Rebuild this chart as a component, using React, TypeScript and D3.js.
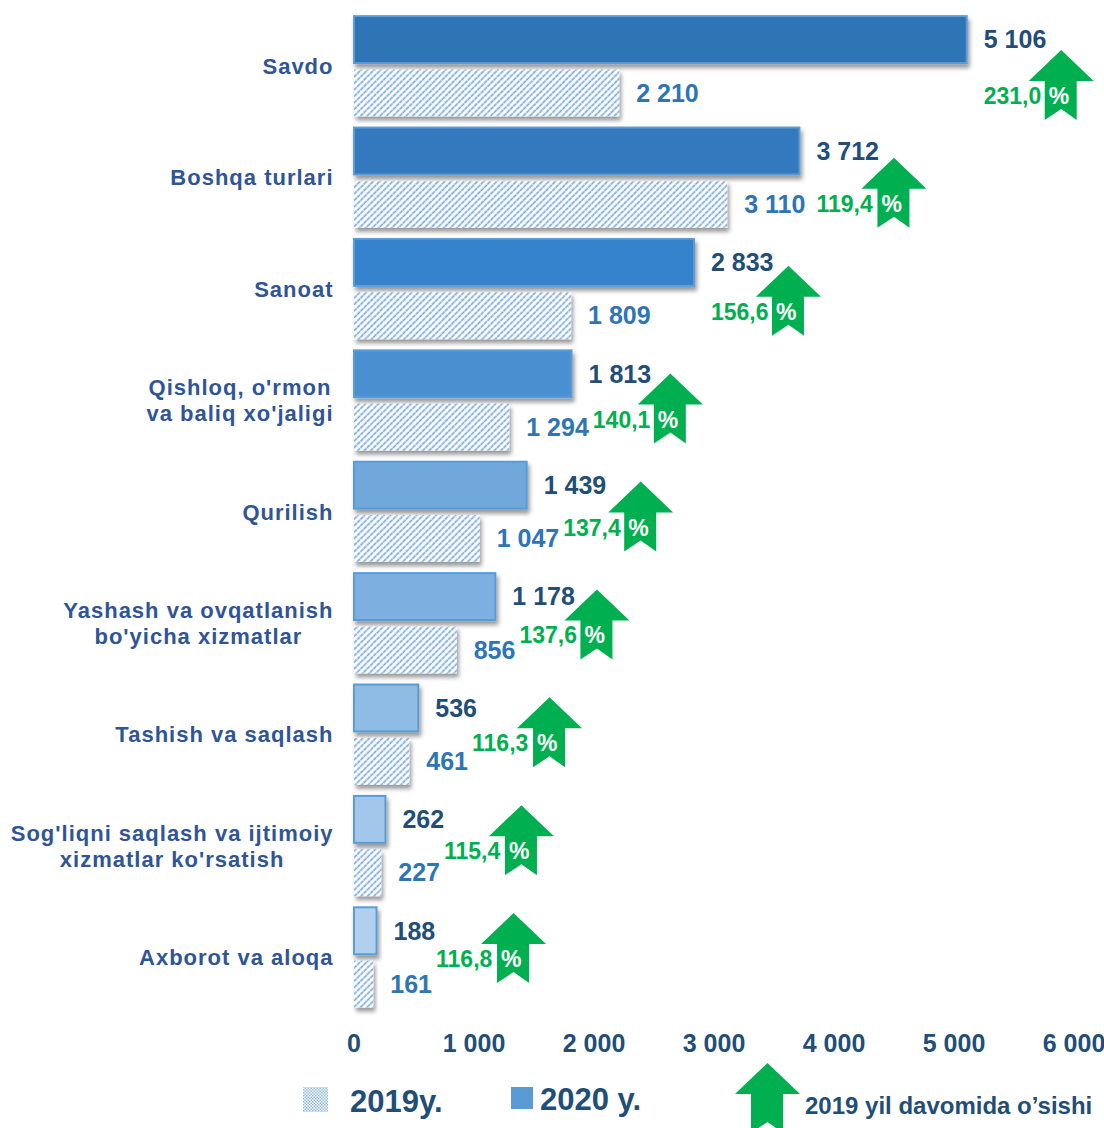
import React from 'react';
import * as d3 from 'd3';

const W = 1104;
const H = 1128;

const categories = [
  "Savdo",
  "Boshqa turlari",
  "Sanoat",
  "Qishloq, o'rmon\nva baliq xo'jaligi",
  "Qurilish",
  "Yashash va ovqatlanish\nbo'yicha xizmatlar",
  "Tashish va saqlash",
  "Sog'liqni saqlash va ijtimoiy\nxizmatlar ko'rsatish",
  "Axborot va aloqa",
];
const values2020 = [5106, 3712, 2833, 1813, 1439, 1178, 536, 262, 188];
const values2019 = [2210, 3110, 1809, 1294, 1047, 856, 461, 227, 161];
const growth = [231.0, 119.4, 156.6, 140.1, 137.4, 137.6, 116.3, 115.4, 116.8];
const barColors2020 = ["#2E74B5", "#3279BE", "#3583CD", "#4A90D1", "#6FA8DC", "#7DB0E0", "#8FBCE5", "#A2C7EA", "#B0D0EE"];
const ticks = [0, 1000, 2000, 3000, 4000, 5000, 6000];
const seriesKeys = ["2020", "2019"];
const legendLabels = ["2019y.", "2020 y.", "2019 yil davomida o\u2019sishi"];

const FONT = "'Liberation Sans', Arial, Helvetica, sans-serif";
const NARROW = "'Liberation Sans Narrow', 'Arial Narrow', 'Liberation Sans', Arial, sans-serif";

const locale = d3.formatLocale({ decimal: ",", thousands: "\u00a0", grouping: [3], currency: ["", ""] });
const fmtInt = locale.format(",d");
const fmtPct = locale.format(".1f");

let _ctx: CanvasRenderingContext2D | null = null;
function textWidth(text: string, font: string, spacing = 0): number {
  if (!_ctx) _ctx = document.createElement('canvas').getContext('2d');
  if (!_ctx) return text.length * 12;
  _ctx.font = font;
  return _ctx.measureText(text).width + spacing * Math.max(0, text.length - 1);
}

const VAL_SIZE = 25;
const CAT_SIZE = 22;
const CAT_SPACING = 1;
const PCT_SIZE = 23;

function arrowPath(left: number, bottom: number, w = 65, h = 70): string {
  const top = bottom - h;
  const head = 31;
  const sl = left + 16;
  const sr = left + 48;
  const cx = left + w / 2;
  return `M${cx},${top} L${left + w},${top + head} L${sr},${top + head} L${sr},${bottom} L${cx},${bottom - 11} L${sl},${bottom} L${sl},${top + head} L${left},${top + head} Z`;
}

export default function App() {
  const x = d3.scaleLinear().domain([0, 6000]).range([354, 1074]);
  const y = d3.scaleBand<string>().domain(categories).range([5, 1018.7]).paddingInner(0.1).paddingOuter(0.1);
  const inner = d3.scaleBand<string>().domain(seriesKeys).range([0, y.bandwidth()]).paddingInner(0.12);
  const bh = inner.bandwidth();
  const valFont = `bold ${VAL_SIZE}px ${FONT}`;
  const catFont = `bold ${CAT_SIZE}px ${FONT}`;

  return (
    <svg width={W} height={H} style={{ position: 'absolute', left: 0, top: 0, display: 'block', background: '#fff' }}>
      <defs>
        <pattern id="hatch" patternUnits="userSpaceOnUse" width={4.6} height={4.6} patternTransform="rotate(45)">
          <rect width={4.6} height={4.6} fill="#fff" />
          <line x1={1.2} y1={0} x2={1.2} y2={4.6} stroke="#79AADF" strokeWidth={1.7} strokeDasharray="2.3 0.5" />
        </pattern>
        <pattern id="dots" patternUnits="userSpaceOnUse" width={3} height={3}>
          <rect width={3} height={3} fill="#fff" />
          <rect width={1.5} height={1.5} fill="#8DB8E6" />
          <rect x={1.5} y={1.5} width={1.5} height={1.5} fill="#8DB8E6" />
        </pattern>
        <filter id="shadow" x="-10%" y="-20%" width="130%" height="160%">
          <feDropShadow dx={2} dy={4} stdDeviation={2.2} floodColor="#000" floodOpacity={0.4} />
        </filter>
      </defs>

      {categories.map((cat, i) => {
        const y0 = y(cat) as number;
        const y20 = y0 + (inner("2020") as number);
        const y19 = y0 + (inner("2019") as number);
        const v20 = values2020[i];
        const v19 = values2019[i];
        const lab20 = fmtInt(v20);
        const lab19 = fmtInt(v19);
        const l20Start = x(v20) + 17;
        const l19Start = x(v19) + 17;
        const l19End = l19Start + textWidth(lab19, valFont);
        const pStart = Math.max(l20Start, l19End + 4);
        const arrowLeft = pStart + 45;
        const pctY = y19 + bh / 2 + 3 - 3.5 * i;
        const arrowBottom = pctY + 24;
        const lines = cat.split("\n");
        const maxW = Math.max(...lines.map(l => textWidth(l, catFont, CAT_SPACING)));
        const catCx = 333 - maxW / 2;
        const midY = y0 + y.bandwidth() / 2;
        const lh = 26;
        return (
          <g key={cat}>
            <rect x={x(0)} y={y20} width={x(v20) - x(0)} height={bh} fill={barColors2020[i]} stroke="#5B9BD5" strokeWidth={2} filter="url(#shadow)" />
            <rect x={x(0)} y={y19} width={x(v19) - x(0)} height={bh} fill="url(#hatch)" filter="url(#shadow)" />
            <text x={l20Start} y={y20 + bh / 2} dy="0.35em" fontFamily={FONT} fontWeight="bold" fontSize={VAL_SIZE} fill="#1F4E79">{lab20}</text>
            <text x={l19Start} y={y19 + bh / 2} dy="0.35em" fontFamily={FONT} fontWeight="bold" fontSize={VAL_SIZE} fill="#2E75B6">{lab19}</text>
            <text x={catCx} textAnchor="middle" fontFamily={FONT} fontWeight="bold" fontSize={CAT_SIZE} letterSpacing={CAT_SPACING} fill="#2F5597">
              {lines.map((l, k) => (
                <tspan key={k} x={catCx} y={midY + (k - (lines.length - 1) / 2) * lh} dy="0.35em">{l}</tspan>
              ))}
            </text>
            <path d={arrowPath(arrowLeft, arrowBottom)} fill="#00B050" />
            <text x={pStart} y={pctY} dy="0.35em" fontFamily={FONT} fontWeight="bold" fontSize={PCT_SIZE} fill="#00B050">{fmtPct(growth[i])}</text>
            <text x={arrowLeft + 20} y={pctY} dy="0.35em" fontFamily={FONT} fontWeight="bold" fontSize={PCT_SIZE} fill="#fff">%</text>
          </g>
        );
      })}

      {ticks.map(t => (
        <text key={t} x={x(t)} y={1043} dy="0.35em" textAnchor="middle" fontFamily={NARROW} fontWeight="bold" fontSize={25} fill="#1F4E79">{fmtInt(t)}</text>
      ))}

      <rect x={303} y={1087} width={25} height={25} fill="url(#dots)" />
      <text x={350} y={1101} dy="0.35em" fontFamily={NARROW} fontWeight="bold" fontSize={31} fill="#1F4E79">{legendLabels[0]}</text>
      <rect x={511} y={1087} width={22} height={22} fill="#5B9BD5" />
      <text x={540} y={1099} dy="0.35em" fontFamily={NARROW} fontWeight="bold" fontSize={31} fill="#1F4E79">{legendLabels[1]}</text>
      <path d={arrowPath(735, 1133)} fill="#00B050" />
      <text x={805} y={1106} dy="0.35em" fontFamily={NARROW} fontWeight="bold" fontSize={24} fill="#1F4E79">{legendLabels[2]}</text>
    </svg>
  );
}
